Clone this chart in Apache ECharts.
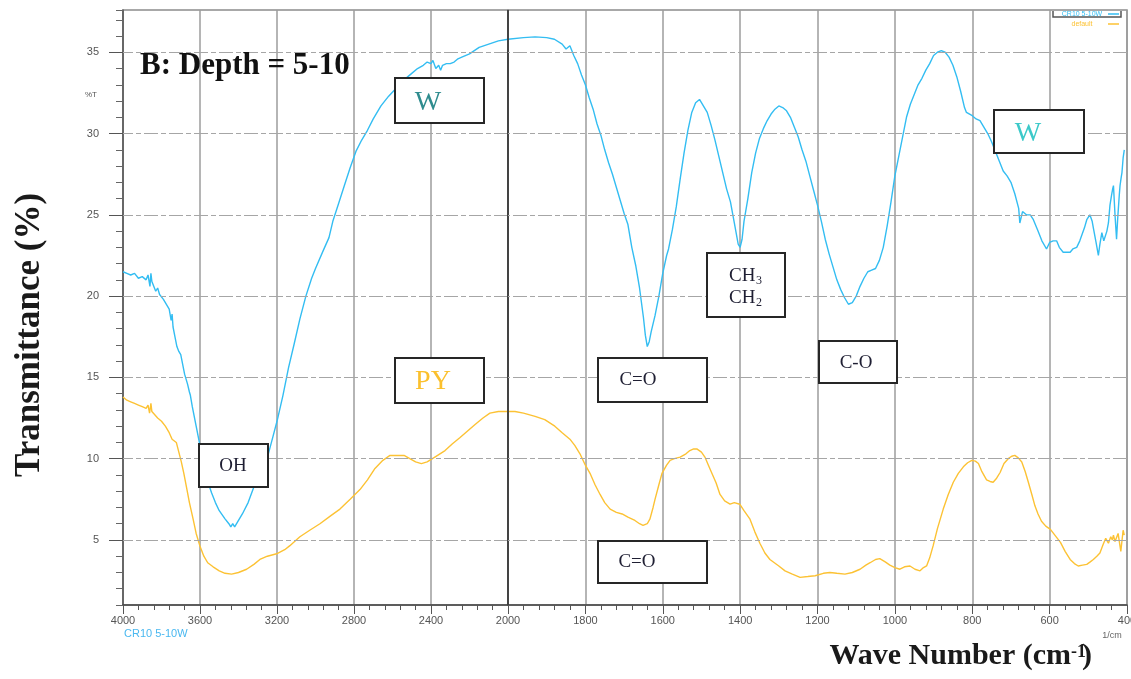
<!DOCTYPE html>
<html>
<head>
<meta charset="utf-8">
<script src="https://cdn.jsdelivr.net/npm/echarts@6/dist/echarts.min.js"></script>
<style>
  html, body { margin: 0; padding: 0; background: #ffffff; }
  #chart { width: 1131px; height: 679px; }
</style>
</head>
<body>
<div id="chart"></div>
<script>
// FTIR spectrum, sample CR10 depth 5-10: water (W) and pyrophosphate (PY) extracts.
// Wavenumbers in cm-1, transmittance in %T.
const wnW = [4000,3980,3960,3940,3920,3900,3880,3870,3860,3855,3850,3840,3830,3820,3810,3800,3790,3780,3770,3760,3750,3745,3740,3730,3720,3710,3700,3680,3665,3655,3650,3640,3620,3600,3580,3560,3540,3520,3500,3470,3450,3440,3430,3420,3400,3380,3350,3325,3300,3270,3247,3220,3200,3169,3140,3110,3081,3050,3020,3000,2960,2930,2910,2880,2850,2820,2790,2760,2730,2700,2660,2620,2580,2540,2500,2470,2440,2420,2400,2390,2375,2360,2350,2340,2320,2300,2280,2260,2240,2200,2150,2100,2050,2000,1960,1930,1900,1880,1860,1850,1840,1830,1820,1810,1800,1790,1780,1770,1760,1750,1740,1730,1720,1710,1700,1690,1680,1670,1660,1650,1645,1640,1635,1630,1620,1610,1600,1590,1585,1575,1565,1555,1545,1535,1525,1515,1505,1500,1495,1485,1475,1465,1455,1445,1435,1425,1415,1405,1400,1395,1390,1380,1370,1360,1350,1340,1330,1320,1310,1300,1290,1280,1270,1260,1250,1240,1230,1220,1210,1200,1190,1180,1170,1160,1150,1140,1130,1120,1115,1110,1100,1090,1080,1070,1060,1050,1040,1030,1020,1010,1000,990,980,970,960,950,940,930,920,910,900,890,880,870,860,850,840,830,820,815,810,800,790,780,770,760,750,740,730,720,710,700,690,680,677,670,660,650,642,630,620,608,600,591,582,575,565,555,547,540,530,522,517,510,504,496,490,487,480,474,470,465,460,457,452,448,444,440,437,435,431,427,424,420,418,415,413,410,407];
const tW = [21.5,21.4,21.3,21.4,21.1,21.2,21.0,21.3,20.6,21.4,20.9,20.8,20.3,20.5,20.1,20.2,19.8,19.9,19.4,19.2,18.5,18.9,18.1,17.5,16.9,16.6,16.4,15.2,14.6,14.1,13.9,13.2,12.0,10.8,9.6,8.6,7.9,7.3,6.8,6.3,6.0,5.8,6.0,5.8,6.2,6.6,7.3,8.1,8.9,9.6,10.2,11.4,12.3,13.9,15.6,17.1,18.6,20.0,21.1,21.7,22.8,23.6,24.6,25.7,26.8,27.9,28.9,29.6,30.2,30.9,31.7,32.3,32.8,33.3,33.7,34.0,34.2,34.4,34.3,34.5,34.0,34.2,33.9,34.2,34.3,34.3,34.4,34.6,34.7,34.9,35.3,35.5,35.7,35.8,35.9,35.95,35.9,35.8,35.5,35.2,35.4,34.8,34.3,33.6,33.0,32.2,31.5,30.6,29.9,29.0,28.2,27.5,26.7,25.9,25.1,24.4,23.0,21.9,20.5,18.7,17.6,16.9,17.2,17.8,18.8,20.0,21.4,22.5,22.9,24.1,25.5,27.2,28.8,30.2,31.3,31.9,32.1,31.9,32.0,31.3,30.5,29.6,28.6,27.6,26.6,25.8,24.5,23.2,23.0,23.5,24.6,26.0,27.6,28.8,29.7,30.3,30.8,31.2,31.5,31.7,31.6,31.4,31.0,30.4,29.8,29.0,28.3,27.4,26.5,25.6,24.6,23.5,22.6,21.8,21.0,20.4,19.9,19.5,19.4,19.6,20.0,20.6,21.1,21.5,21.6,21.7,22.2,23.0,24.3,25.8,27.4,28.6,29.8,31.0,31.8,32.4,33.0,33.4,33.9,34.3,34.8,35.0,35.1,35.0,34.7,34.2,33.5,32.6,31.6,31.3,31.2,31.1,30.9,30.8,30.4,30.0,29.5,28.9,28.3,27.7,27.4,27.0,26.3,25.4,24.5,25.2,25.0,25.0,24.7,24.0,23.4,22.9,23.3,23.4,23.4,23.0,22.7,22.7,22.7,22.9,23.0,23.4,23.5,24.2,24.7,25.0,24.6,24.2,23.3,22.5,23.2,23.9,23.4,23.5,24.0,24.5,25.6,26.2,26.6,26.8,25.0,23.5,24.8,26.2,26.8,27.3,27.6,28.5,29.0];

const wnPY = [4000,3980,3960,3940,3920,3900,3880,3870,3862,3855,3850,3840,3820,3800,3780,3770,3760,3750,3745,3735,3723,3710,3697,3684,3671,3655,3636,3620,3601,3580,3560,3532,3500,3470,3436,3400,3358,3320,3289,3250,3202,3160,3133,3100,3081,3030,2977,2920,2873,2820,2769,2730,2691,2650,2613,2570,2540,2510,2480,2450,2420,2380,2327,2290,2249,2210,2171,2130,2094,2050,2016,2000,1982,1960,1930,1905,1879,1860,1840,1827,1814,1800,1788,1775,1762,1750,1736,1720,1705,1690,1672,1660,1651,1640,1633,1625,1620,1610,1602,1590,1581,1570,1555,1540,1530,1520,1512,1500,1491,1482,1473,1462,1452,1440,1426,1415,1401,1390,1375,1362,1349,1336,1323,1300,1284,1265,1245,1225,1206,1185,1168,1150,1129,1110,1090,1075,1064,1050,1039,1025,1013,1000,987,975,961,948,935,926,918,910,901,890,875,862,849,836,823,812,801,792,784,775,763,754,746,737,728,718,707,698,690,681,672,663,655,646,638,630,621,610,598,585,572,560,547,536,526,515,504,495,487,478,470,462,455,448,442,438,435,431,427,423,420,416,413,410,407];
const tPY = [13.8,13.6,13.5,13.4,13.3,13.2,13.1,13.3,12.8,13.4,12.9,12.8,12.5,12.3,12.0,11.9,11.6,11.7,11.2,11.1,11.0,10.4,9.8,9.1,8.3,7.3,6.3,5.4,4.65,4.0,3.6,3.35,3.1,2.95,2.9,3.0,3.2,3.5,3.8,4.0,4.15,4.4,4.65,5.0,5.2,5.6,6.0,6.5,6.9,7.5,8.1,8.7,9.4,9.9,10.2,10.2,10.2,10.0,9.8,9.7,9.8,10.1,10.5,10.9,11.3,11.7,12.1,12.5,12.8,12.9,12.9,12.9,12.9,12.8,12.6,12.4,12.0,11.6,11.2,10.8,10.3,9.6,9.1,8.4,7.8,7.3,6.9,6.7,6.6,6.4,6.2,6.0,5.9,6.0,6.3,7.0,7.5,8.4,9.1,9.6,9.9,10.0,10.1,10.3,10.5,10.6,10.6,10.4,10.1,9.6,9.1,8.5,7.8,7.4,7.2,7.3,7.2,6.8,6.3,5.5,4.8,4.2,3.8,3.4,3.1,2.9,2.7,2.75,2.8,2.95,3.0,2.95,2.9,3.0,3.2,3.45,3.6,3.8,3.85,3.65,3.45,3.3,3.2,3.35,3.4,3.2,3.1,3.3,3.4,3.9,4.65,5.7,6.9,7.8,8.55,9.1,9.5,9.75,9.9,9.85,9.7,9.2,8.7,8.6,8.55,8.8,9.15,9.7,10.0,10.15,10.2,10.05,9.8,9.2,8.55,7.8,7.1,6.6,6.15,5.85,5.65,5.25,4.85,4.3,3.8,3.55,3.4,3.45,3.5,3.65,3.8,4.0,4.2,4.7,5.1,4.8,5.2,5.0,5.3,4.9,4.85,5.4,5.5,4.3,4.2,5.6,5.3];

// Axis ranges and tick values
const yMin = 1, yMax = 37.6;
const yMajorTicks = [5, 10, 15, 20, 25, 30, 35];
const xHighRange = [2000, 4000];   // compressed half of the x axis
const xLowRange = [400, 2000];     // expanded half (2x scale)

const lineBlue = '#33bdf2';
const lineGold = '#fcc234';

function pairs(wn, t, lo, hi) {
  const out = [];
  for (let i = 0; i < wn.length; i++) {
    if (wn[i] >= lo && wn[i] <= hi) out.push([wn[i], t[i]]);
  }
  return out;
}

const serif = '"Liberation Serif", "DejaVu Serif", serif';
const sans = '"Liberation Sans", Arial, sans-serif';

const gridLineStyle = { color: '#a6a6a6', width: 1.2, type: [14, 3, 5, 3] };

function gridLineSeries(xIdx, extra) {
  return {
    type: 'line', xAxisIndex: xIdx, yAxisIndex: xIdx, data: [], z: 1,
    silent: true,
    markLine: {
      silent: true, symbol: 'none', animation: false,
      label: { show: false },
      lineStyle: gridLineStyle,
      data: yMajorTicks.map(v => ({ yAxis: v })).concat(extra || [])
    }
  };
}

function spectrum(xIdx, wn, t, lo, hi, color) {
  return {
    type: 'line', xAxisIndex: xIdx, yAxisIndex: xIdx,
    data: pairs(wn, t, lo, hi),
    showSymbol: false, z: 3, silent: true,
    lineStyle: { color: color, width: 1.4 }
  };
}

function xAxisCommon(gridIndex, range, interval, hideMax) {
  return {
    type: 'value', gridIndex: gridIndex, min: range[0], max: range[1],
    interval: interval, inverse: true,
    axisLine: { show: true, lineStyle: { color: '#444', width: 1.5 } },
    axisTick: { show: true, length: 9, lineStyle: { color: '#555', width: 1 } },
    minorTick: { show: true, splitNumber: 5, length: 5, lineStyle: { color: '#555', width: 1 } },
    splitLine: { show: true, lineStyle: { color: '#9c9c9c', width: 1.5 } },
    axisLabel: {
      fontSize: 11, color: '#555', margin: 10, fontFamily: sans,
      showMaxLabel: !hideMax,
      formatter: v => String(v)
    }
  };
}

function box(x, y, w, h) {
  return {
    type: 'rect', z: 10,
    shape: { x: x, y: y, width: w, height: h },
    style: { fill: '#ffffff', stroke: '#262626', lineWidth: 2 }
  };
}

function txt(x, y, text, font, color, align, vAlign) {
  return {
    type: 'text', z: 11, x: x, y: y,
    style: {
      text: text, font: font, fill: color,
      align: align || 'center', verticalAlign: vAlign || 'middle'
    }
  };
}

const boxFont = '19px ' + serif;
const boxInk = '#1f1f33';

const option = {
  animation: false,
  backgroundColor: '#ffffff',
  grid: [
    { left: 123, top: 10, width: 385, height: 595, show: true, borderColor: '#8c8c8c', borderWidth: 1.5, outerBoundsMode: 'none' },
    { left: 508, top: 10, width: 619, height: 595, show: true, borderColor: '#8c8c8c', borderWidth: 1.5, outerBoundsMode: 'none' }
  ],
  xAxis: [
    xAxisCommon(0, xHighRange, 400, false),
    xAxisCommon(1, xLowRange, 200, true)
  ],
  yAxis: [
    {
      type: 'value', gridIndex: 0, min: yMin, max: yMax, interval: 1,
      axisLine: { show: true, lineStyle: { color: '#555', width: 1.5 } },
      axisTick: { show: true, length: 7, lineStyle: { color: '#666' } },
      axisLabel: {
        fontSize: 11, color: '#555', margin: 24, fontFamily: sans,
        formatter: v => (v % 5 === 0 ? String(v) : '')
      },
      splitLine: { show: false }
    },
    { type: 'value', gridIndex: 1, min: yMin, max: yMax, show: false, splitLine: { show: false } },
    {
      type: 'value', gridIndex: 0, min: yMin, max: yMax, position: 'left',
      axisLine: { show: false },
      axisTick: { show: true, length: 14, customValues: yMajorTicks, lineStyle: { color: '#555' } },
      axisLabel: { show: false },
      splitLine: { show: false }
    }
  ],
  series: [
    gridLineSeries(0, [{ xAxis: 2000, lineStyle: { color: '#3a3a3a', width: 1.8, type: 'solid' } }]),
    gridLineSeries(1),
    spectrum(0, wnW, tW, xHighRange[0], xHighRange[1], lineBlue),
    spectrum(1, wnW, tW, xLowRange[0], xLowRange[1], lineBlue),
    spectrum(0, wnPY, tPY, xHighRange[0], xHighRange[1], lineGold),
    spectrum(1, wnPY, tPY, xLowRange[0], xLowRange[1], lineGold)
  ],
  graphic: [
    // panel title
    txt(140, 66, 'B: Depth = 5-10', 'bold 31px ' + serif, '#111', 'left'),
    // axis titles
    {
      type: 'text', z: 11, x: 30, y: 335, rotation: Math.PI / 2,
      style: { text: 'Transmittance (%)', font: 'bold 35px ' + serif, fill: '#1a1a1a', align: 'center', verticalAlign: 'middle' }
    },
    txt(1071, 671, 'Wave Number (cm', 'bold 30px ' + serif, '#1a1a1a', 'right', 'bottom'),
    txt(1071, 661, '-1', 'bold 18px ' + serif, '#1a1a1a', 'left', 'bottom'),
    txt(1082, 671, ')', 'bold 30px ' + serif, '#1a1a1a', 'left', 'bottom'),
    // instrument labels
    txt(91, 95, '%T', '8px ' + sans, '#555'),
    txt(124, 634, 'CR10 5-10W', '11px ' + sans, '#4ab8f0', 'left'),
    txt(1112, 636, '1/cm', '9px ' + sans, '#666'),
    // mini legend
    {
      type: 'polyline', z: 11,
      shape: { points: [[1053, 11], [1053, 17], [1121, 17], [1121, 11]] },
      style: { stroke: '#555', lineWidth: 1.5, fill: null }
    },
    txt(1082, 14, 'CR10 5-10W', '7px ' + sans, lineBlue),
    { type: 'line', z: 11, shape: { x1: 1108, y1: 14, x2: 1119, y2: 14 }, style: { stroke: lineBlue, lineWidth: 1.5 } },
    txt(1082, 24, 'default', '7px ' + sans, lineGold),
    { type: 'line', z: 11, shape: { x1: 1108, y1: 24, x2: 1119, y2: 24 }, style: { stroke: lineGold, lineWidth: 1.5 } },
    // band annotations
    box(395, 78, 89, 45), txt(428, 103, 'W', '28px ' + serif, '#2f8c8e'),
    box(395, 358, 89, 45), txt(433, 382, 'PY', '28px ' + serif, '#fbc02d'),
    box(199, 444, 69, 43), txt(233, 466, 'OH', boxFont, boxInk),
    box(598, 358, 109, 44), txt(638, 380, 'C=O', boxFont, boxInk),
    box(707, 253, 78, 64),
    txt(729, 276, 'CH', boxFont, boxInk, 'left'), txt(756, 281, '3', '12px ' + serif, boxInk, 'left'),
    txt(729, 298, 'CH', boxFont, boxInk, 'left'), txt(756, 303, '2', '12px ' + serif, boxInk, 'left'),
    box(819, 341, 78, 42), txt(856, 363, 'C-O', boxFont, boxInk),
    box(994, 110, 90, 43), txt(1028, 134, 'W', '28px ' + serif, '#3cc9c9'),
    box(598, 541, 109, 42), txt(637, 562, 'C=O', boxFont, boxInk)
  ]
};

const chart = echarts.init(document.getElementById('chart'), null, { renderer: 'canvas' });
chart.setOption(option);
</script>
</body>
</html>
